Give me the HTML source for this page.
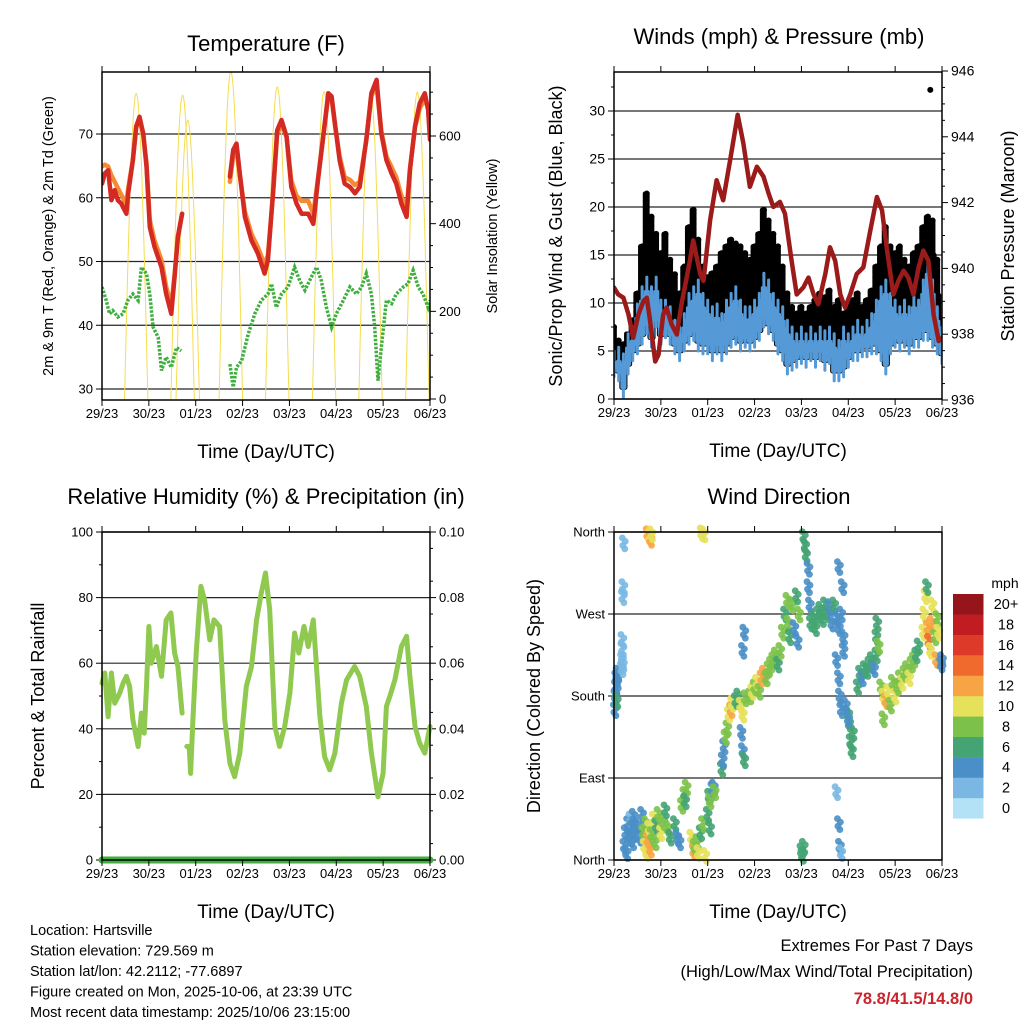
<!DOCTYPE html>
<html><head><meta charset="utf-8"><style>
html,body{margin:0;padding:0;background:#fff}
svg{display:block;font-family:"Liberation Sans",Arial,sans-serif}
</style></head><body>
<svg id="s" width="1024" height="1024" viewBox="0 0 1024 1024" xmlns="http://www.w3.org/2000/svg"></svg>
<script>
// ---------- data ----------
const dayLabels = ["29/23","30/23","01/23","02/23","03/23","04/23","05/23","06/23"];
const tempTime = [0,0.06,0.13,0.2,0.27,0.34,0.41,0.52,0.56,0.66,0.73,0.8,0.88,0.95,1.02,1.12,1.27,1.37,1.48,1.55,1.62,1.71,null,2.73,2.8,2.87,2.94,3.05,3.19,3.33,3.47,3.54,3.65,3.74,3.83,3.94,4.04,4.15,4.26,4.4,4.51,4.61,4.72,4.83,4.9,4.97,5.07,5.18,5.29,5.4,5.5,5.64,5.75,5.86,5.96,6.07,6.18,6.28,6.39,6.5,6.57,6.68,6.78,6.89,6.96,7.0];
const tempRed  = [62.2,63.8,64.3,59.6,61.2,59.6,59.1,57.5,60.7,65.9,71.2,72.7,70.1,64.9,55.4,52.3,49.1,44.9,41.8,47.6,53.8,57.5,null,63.3,67.5,68.5,63.8,57.0,53.3,51.2,48.1,50.2,60.7,70.6,72.2,69.6,61.7,59.1,57.5,57.5,55.9,62.8,69.6,76.4,75.9,71.7,65.9,62.2,61.7,60.7,61.7,69.1,76.4,78.5,70.1,65.9,63.8,62.2,59.1,57.0,64.3,71.2,74.8,76.4,73.8,69.1];
const tempOrange=[64.9,65.2,64.9,63.5,62.5,61.5,60.5,59.0,61.5,66.0,71.0,72.2,70.0,65.5,56.5,53.3,50.2,46.0,43.0,48.0,54.0,57.5,null,62.5,66.5,67.5,63.5,57.8,54.3,52.2,49.5,51.0,60.5,70.0,71.5,69.5,62.7,60.3,59.5,59.5,57.5,63.0,69.5,76.0,75.5,71.5,66.5,63.2,62.8,62.0,62.5,69.0,76.0,77.5,70.5,66.5,64.8,63.2,60.3,58.0,64.5,71.0,74.0,75.5,74.0,70.0];
const dewTime = [0,0.09,0.16,0.23,0.34,0.45,0.55,0.66,0.77,0.84,0.95,1.02,1.09,1.2,1.27,1.37,1.48,1.59,1.69,null,2.73,2.8,2.87,2.98,3.12,3.26,3.4,3.54,3.62,3.72,3.83,3.97,4.11,4.22,4.33,4.47,4.58,4.68,4.79,4.9,5.0,5.15,5.29,5.43,5.54,5.64,5.75,5.82,5.89,5.96,6.07,6.18,6.28,6.43,6.53,6.64,6.75,6.85,6.96,7.0];
const dewVal  = [46.0,43.9,41.8,42.3,41.3,41.8,43.9,44.9,43.9,49.1,48.1,44.9,39.7,38.1,32.9,35.0,33.4,36.5,36.0,null,33.9,30.3,33.4,34.4,38.6,41.8,43.9,44.9,46.5,42.8,44.9,46.0,49.1,47.0,45.5,47.6,49.1,47.0,42.8,39.7,41.8,43.9,46.0,44.9,46.0,48.1,44.9,39.7,31.3,36.5,43.9,43.4,44.9,46.0,46.5,48.6,46.0,44.9,42.8,43.9];
const solarPeakTime = [0.73,1.72,1.83,2.75,3.74,4.74,5.73,6.73,7.6];
const solarPeakVal  = [697,693,636,747,712,701,700,700,700];
const windTime = [0,0.1,0.2,0.3,0.4,0.5,0.6,0.7,0.8,0.9,1.0,1.1,1.2,1.3,1.4,1.5,1.6,1.7,1.8,1.9,2.0,2.1,2.2,2.3,2.4,2.5,2.6,2.7,2.8,2.9,3.0,3.1,3.2,3.3,3.4,3.5,3.6,3.7,3.8,3.9,4.0,4.1,4.2,4.3,4.4,4.5,4.6,4.7,4.8,4.9,5.0,5.1,5.2,5.3,5.4,5.5,5.6,5.7,5.8,5.9,6.0,6.1,6.2,6.3,6.4,6.5,6.6,6.7,6.8,6.9,7.0];
const windHigh = [5.0,5.4,4.7,6.8,7.5,9.9,11.7,12.7,11.7,12.7,10.3,10.3,9.6,8.2,7.5,8.9,11,11.7,12.4,11,10.3,9.6,9.9,8.9,10.3,11,11.7,10.3,9.6,9.6,10.3,11,13.1,12.4,11,10.3,9.6,8.2,7.5,6.8,7.5,6.8,7.5,6.8,7.5,7.1,7.5,6.8,6.1,7.5,6.8,7.5,8.2,7.5,8.2,8.9,10.3,11.7,12.4,11,10.3,9.6,10.3,9.6,11,10.3,12.4,14.5,12.4,9.6,7.5];
const windLow  = [2.3,1.9,0.2,2.6,4.0,4.7,5.7,6.8,5.4,7.5,5.7,6.4,5.7,4.7,4.0,5.0,5.7,6.1,5.0,4.7,4.7,4.0,4.7,4.0,4.7,5.4,5.7,5.0,5.4,5.0,5.4,6.1,7.5,6.8,6.1,4.7,4.0,2.6,3.0,3.3,3.7,3.3,4.0,3.3,4.0,3.0,3.7,1.9,1.9,2.3,3.3,4.0,4.0,4.4,4.4,4.7,4.7,4.0,2.6,4.7,5.4,5.0,5.4,4.7,5.4,5.4,6.1,6.1,5.4,4.7,3.7];
const gustVal  = [7.5,6.1,5.7,6.4,8.2,11,15.9,21.4,19,17.2,15.2,17.2,14.5,13,11,13.8,17.9,19.7,16.6,13.8,12.7,13.1,13.8,15.2,15.9,16.6,16.2,15.9,15.2,14.5,15.9,17.2,19.7,18.6,17.2,15.9,13.8,11,9.6,8.9,9.6,8.9,9.6,10.3,11,10.6,11.3,9.6,10.3,8.9,9.6,10.3,11,9.6,10.3,11.3,13.8,15.9,17.9,15.9,15.2,15.9,14.5,13.8,15.2,15.9,17.9,19,18.6,14.5,8.2];
const gustOutlierTime = [6.75];
const gustOutlierVal  = [32.2];
const presTime = [0,0.09,0.2,0.31,0.41,0.52,0.63,0.7,0.77,0.88,0.95,1.05,1.12,1.23,1.34,1.44,1.62,1.69,1.84,1.91,2.05,2.19,2.33,2.48,2.64,2.76,2.9,3.05,3.19,3.3,3.4,3.54,3.65,3.79,3.9,4.04,4.15,4.26,4.36,4.51,4.61,4.72,4.83,4.93,5.04,5.18,5.32,5.47,5.61,5.72,5.82,5.96,6.07,6.18,6.28,6.39,6.5,6.6,6.71,6.82,6.93,7.0];
const presVal  = [939.42,939.21,939.11,938.6,937.89,938.6,939.01,939.11,938.4,937.17,937.38,938.6,938.81,938.3,937.99,938.91,940.23,940.85,939.83,939.62,941.46,942.68,942.07,943.3,944.67,943.81,942.48,943.09,942.79,942.28,941.87,942.02,941.66,940.23,939.21,939.42,939.72,939.21,938.91,939.83,940.64,940.23,939.21,938.81,939.21,939.83,940.03,941.15,942.17,941.77,940.64,939.21,939.62,939.93,939.72,939.21,940.03,940.54,940.23,938.6,937.79,937.89];
const rhTime = [0,0.06,0.13,0.2,0.27,0.38,0.45,0.52,0.59,0.66,0.77,0.84,0.9,0.95,1.0,1.05,1.16,1.27,1.37,1.47,1.55,1.62,1.71,null,1.81,1.86,1.89,1.94,2.01,2.11,2.19,2.3,2.39,2.51,2.62,2.73,2.83,2.94,3.08,3.19,3.3,3.4,3.49,3.58,3.69,3.79,3.9,4.01,4.11,4.2,4.31,4.4,4.51,4.65,4.75,4.86,4.97,5.11,5.22,5.39,5.5,5.64,5.75,5.89,6.0,6.07,6.14,6.25,6.39,6.5,6.57,6.68,6.78,6.89,7.0];
const rhVal  = [53.9,57.0,43.7,57.0,47.8,50.9,53.9,56.0,52.9,42.7,34.6,44.8,38.7,52.9,71.2,60.0,65.1,56.0,73.2,75.3,63.1,59.0,44.8,null,34.6,34.6,26.4,42.7,63.1,83.4,79.3,67.1,73.2,71.2,42.7,29.5,25.4,32.6,52.9,59.0,73.2,81.4,87.5,76.3,40.7,34.6,40.7,50.9,69.2,63.1,71.2,65.1,73.2,43.7,31.5,27.5,32.6,47.8,54.9,59.0,56.0,46.8,32.6,19.3,26.4,46.8,49.8,54.9,65.1,68.2,56.0,40.7,35.6,32.6,40.7];
const rainTime = [0,7];
const rainVal  = [0,0];
const dirTime = [0.02,0.03,0.04,0.05,0.06,0.07,0.08,0.17,0.17,0.18,0.18,0.19,0.19,0.2,0.21,0.72,0.76,0.78,0.8,1.87,1.92,
0.22,0.25,0.27,0.3,0.33,0.35,0.38,0.4,0.42,0.45,0.5,0.55,0.6,
0.62,0.65,0.68,0.7,0.72,0.75,0.78,0.8,0.85,0.88,0.9,0.95,1.0,1.05,1.1,1.15,1.2,
1.3,1.35,1.4,1.45,1.5,1.55,1.52,1.65,1.7,1.72,1.78,1.8,1.85,1.9,1.95,
2.0,2.03,2.05,2.1,2.13,2.15,2.05,2.3,2.32,2.35,2.38,2.42,2.45,2.5,2.52,
2.6,2.65,2.7,2.75,2.8,2.72,2.75,2.78,2.75,2.78,
2.9,2.95,3.0,3.05,3.1,3.15,3.2,3.25,3.3,3.35,3.4,3.45,3.5,3.55,
3.6,3.65,3.7,3.72,3.75,3.8,3.85,3.9,3.92,3.95,
4.05,4.08,4.1,4.15,4.15,4.18,4.2,
4.25,4.3,4.35,4.4,4.45,4.5,4.55,4.6,4.65,4.7,4.75,4.8,4.85,4.9,
4.75,4.8,4.82,4.85,4.9,4.8,4.88,
5.0,5.02,5.05,5.08,5.1,4.95,5.0,
5.2,5.25,5.3,5.35,5.4,5.45,5.5,5.55,5.6,5.6,5.62,5.65,
5.7,5.75,5.8,5.85,5.9,5.95,6.0,6.05,5.75,
6.1,6.15,6.2,6.25,6.3,6.35,6.4,6.45,6.5,
6.6,6.62,6.65,6.68,6.7,6.72,6.75,6.78,6.8,6.85,6.88,6.9,6.92,6.98,7.0,
4.0,4.02,4.05,4.75,4.8,4.82,4.85];
const dirDeg = [165,180,190,200,175,195,205,210,220,232,242,215,289,300,348,358,355,352,358,359,358,
15,30,8,40,25,45,35,20,48,30,38,25,50,
30,15,40,8,22,35,12,28,45,20,38,50,30,42,55,35,25,
40,25,20,60,72,80,65,25,10,15,20,8,30,40,5,
50,70,65,78,80,75,35,100,110,125,135,145,160,165,172,
175,180,170,160,178,140,120,110,230,250,
180,185,190,195,185,200,205,200,210,215,220,225,215,230,
250,270,285,260,245,280,255,290,240,270,
355,345,335,320,300,280,260,
265,255,270,275,265,280,270,278,260,280,265,255,270,245,
220,200,180,165,230,322,300,
160,150,130,120,140,170,155,
190,205,200,210,208,215,220,210,225,245,260,235,
190,180,175,185,170,195,180,190,155,
200,195,205,210,200,215,220,225,235,
250,270,290,300,255,240,230,260,280,245,220,265,250,215,220,
10,5,15,75,40,15,8];
const dirSpeed = [4,4,4,4,6,4,4,2,2,2,2,2,2,2,2,12,10,12,10,10,10,
4,4,4,4,4,2,4,4,4,4,4,4,4,
8,10,8,10,12,10,12,8,10,8,6,8,10,8,6,8,6,
6,4,4,8,8,8,6,10,12,8,8,10,6,8,10,
6,6,8,4,4,8,6,6,4,4,8,8,10,12,10,
6,6,10,10,8,4,4,6,4,4,
8,10,8,10,8,12,12,8,8,8,8,8,6,8,
8,6,8,8,6,8,4,6,4,8,
6,6,6,4,4,4,6,
6,6,6,6,6,6,6,4,4,6,4,4,4,4,
4,4,4,4,4,4,4,
6,6,6,6,6,4,4,
6,6,4,6,6,6,6,4,6,6,6,8,
8,10,12,10,8,8,10,8,8,
8,10,8,8,10,8,8,6,6,
10,10,10,6,12,14,10,12,10,8,12,8,10,4,4,
6,6,6,2,4,4,2];
const speedColors = ["#b3e2f7","#7ab8e3","#4a8fc7","#45a473","#7cc24a","#e6e15a","#f7a445","#ef6a2c","#de3a2a","#c01c22","#95151b"];
const speedLabels = ["0","2","4","6","8","10","12","14","16","18","20+"];

// ---------- helpers ----------
const NS="http://www.w3.org/2000/svg", svg=document.getElementById('s');
function el(tag, attrs, parent, txt){const e=document.createElementNS(NS,tag);for(const k in attrs)e.setAttribute(k,attrs[k]);if(txt!==undefined)e.textContent=txt;(parent||svg).appendChild(e);return e;}
function lin(d0,d1,r0,r1){return v=>r0+(v-d0)*(r1-r0)/(d1-d0);}
function pathFrom(ts,vs,sx,sy){let d="",pen=false;for(let i=0;i<ts.length;i++){if(ts[i]===null||vs[i]===null){pen=false;continue;}d+=(pen?"L":"M")+sx(ts[i]).toFixed(1)+","+sy(vs[i]).toFixed(1);pen=true;}return d;}
function panel(name){const g=el('g',{});return g;}
function frame(g,L,T,R,B){
  const f=el('rect',{x:L,y:T,width:R-L,height:B-T,fill:'none',stroke:'#000','stroke-width':1.5},g);
  
}
function xAxis(g,L,R,B,T){
  const sx=lin(0,7,L,R);
  for(let i=0;i<dayLabels.length;i++){
    const x=sx(i);
    el('line',{x1:x,y1:B,x2:x,y2:B+6,stroke:'#000','stroke-width':1},g);
    el('line',{x1:x,y1:T,x2:x,y2:T-6,stroke:'#000','stroke-width':1},g);
    const t=el('text',{x:x,y:B+18,'font-size':13,'text-anchor':'middle'},g,dayLabels[i]);
    
  }
  const tt=el('text',{x:(L+R)/2,y:B+58,'font-size':19,'text-anchor':'middle'},g,'Time (Day/UTC)');
  
}
function yTicks(g,x,vals,sy,labels,side,grid,L,R,fs){
  vals.forEach((v,i)=>{
    const y=sy(v);
    if(grid){el('line',{x1:L,y1:y,x2:R,y2:y,stroke:'#000','stroke-width':1.2,'stroke-opacity':0.85},g);}
    el('line',{x1:x,y1:y,x2:x+(side==='l'?-6:6),y2:y,stroke:'#000','stroke-width':1},g);
    const t=el('text',{x:x+(side==='l'?-9:9),y:y+4.5,'font-size':fs||13,'text-anchor':side==='l'?'end':'start'},g,labels[i]);
    
  });
}
function minor(g,x,vals,sy,side){vals.forEach(v=>{const y=sy(v);el('line',{x1:x,y1:y,x2:x+(side==='l'?-3:3),y2:y,stroke:'#000','stroke-width':1},g);});}
function title(g,x,y,txt,nm){const t=el('text',{x:x,y:y,'font-size':22,'text-anchor':'middle'},g,txt);}
function vtitle(g,x,y,txt,fs,nm){const t=el('text',{x:x,y:y,'font-size':fs,'text-anchor':'middle',transform:`rotate(-90 ${x} ${y})`},g,txt);}

// ---------- Panel 1: Temperature ----------
(function(){
  const L=102,T=72,R=430,B=400;
  const g=panel('temperature-panel');
  const sx=lin(0,7,L,R), sy=lin(30,70,389,134), ss=lin(0,600,399,136);
  const clip=el('clipPath',{id:'c1'},g);el('rect',{x:L,y:T,width:R-L,height:B-T},clip);
  yTicks(g,L,[30,40,50,60,70],sy,["30","40","50","60","70"],'l',true,L,R);
  yTicks(g,R,[0,200,400,600],ss,["0","200","400","600"],'r',false);
  const mn=[];for(let v=0;v<=740;v+=50)if(v%200)mn.push(v);minor(g,R,mn,ss,'r');
  const cg=el('g',{'clip-path':'url(#c1)'},g);
  solarPeakTime.forEach((pt,i)=>{
    let d="";for(let k=0;k<=40;k++){const t=pt-0.25+0.5*k/40;const v=solarPeakVal[i]*Math.max(0,Math.sin(Math.PI*k/40));d+=(k?"L":"M")+sx(t).toFixed(1)+","+ss(v).toFixed(1);}
    const p=el('path',{d:d,fill:'none',stroke:'#f5dc50','stroke-width':1},cg);
    
  });
  const po=el('path',{d:pathFrom(tempTime,tempOrange,sx,sy),fill:'none',stroke:'#f58a30','stroke-width':4.5,'stroke-linejoin':'round','stroke-linecap':'round'},cg);
  
  const pr=el('path',{d:pathFrom(tempTime,tempRed,sx,sy),fill:'none',stroke:'#d42a24','stroke-width':4.5,'stroke-linejoin':'round','stroke-linecap':'round'},cg);
  
  const pg=el('path',{d:pathFrom(dewTime,dewVal,sx,sy),fill:'none',stroke:'#3fae3f','stroke-width':3.5,'stroke-dasharray':'2.5 1.5'},cg);
  
  frame(g,L,T,R,B);xAxis(g,L,R,B,T);
  title(g,266,51,'Temperature (F)','temperature-title');
  vtitle(g,53,236,'2m & 9m T (Red, Orange) & 2m Td (Green)',14.5,'temperature-y-axis-title');
  vtitle(g,497,236,'Solar Insolation (Yellow)',14.5,'solar-y-axis-title');
})();

// ---------- Panel 2: Winds ----------
(function(){
  const L=614,T=72,R=942,B=399;
  const g=panel('winds-panel');
  const sx=lin(0,7,L,R), sy=lin(0,30,399,111), sp=lin(936,946,400,71);
  const clip=el('clipPath',{id:'c2'},g);el('rect',{x:L,y:T,width:R-L,height:B-T},clip);
  yTicks(g,L,[0,5,10,15,20,25,30],sy,["0","5","10","15","20","25","30"],'l',true,L,R,14);
  yTicks(g,R,[936,938,940,942,944,946],sp,["936","938","940","942","944","946"],'r',false,0,0,14);
  const mn=[];for(let v=936.5;v<946;v+=0.5)if(v%2)mn.push(v);minor(g,R,mn,sp,'r');
  const mn2=[];for(let v=2.5;v<34;v+=2.5)if(v%5)mn2.push(v);minor(g,L,mn2,sy,'l');
  const cg=el('g',{'clip-path':'url(#c2)'},g);
  // gust dots: dense between wind high and gust value at each sample
  windTime.forEach((t,i)=>{
    for(let k=0;k<4;k++){
      const x=sx(t)+(k-1.5)*1.2;
      const top=gustVal[i]-(k%2)*1.2*(k);
      let d="M"+x.toFixed(1)+","+sy(windLow[i]+1).toFixed(1)+"L"+x.toFixed(1)+","+sy(Math.max(top,windHigh[i])).toFixed(1);
      const p=el('path',{d:d,stroke:'#000','stroke-width':4.5,'stroke-linecap':'round','stroke-dasharray':'4 1'},cg);
      
    }
    const c=el('circle',{cx:sx(t),cy:sy(gustVal[i]),r:3,fill:'#000'},cg);
  });
  gustOutlierTime.forEach((t,i)=>{const c=el('circle',{cx:sx(t),cy:sy(gustOutlierVal[i]),r:3,fill:'#000'},cg);});
  windTime.forEach((t,i)=>{
    for(let k=0;k<3;k++){
      const x=sx(t)+(k-1)*1.6;
      const hi=windHigh[i]-(k===1?0:1.5), lo=windLow[i]+(k===1?0:1);
      const p=el('line',{x1:x.toFixed(1),y1:sy(lo).toFixed(1),x2:x.toFixed(1),y2:sy(hi).toFixed(1),stroke:'#559ad6','stroke-width':3,'stroke-linecap':'round'},cg);
      
    }
  });
  let d="M";windTime.forEach((t,i)=>{d+=(i?"L":"")+sx(t).toFixed(1)+","+sy(windHigh[i]-1.2).toFixed(1);});
  for(let i=windTime.length-1;i>=0;i--)d+="L"+sx(windTime[i]).toFixed(1)+","+sy(windLow[i]+1.2).toFixed(1);
  const wb=el('path',{d:d+"Z",fill:'#559ad6'},cg);
  
  const pp=el('path',{d:pathFrom(presTime,presVal,sx,sp),fill:'none',stroke:'#9b1a1a','stroke-width':4.5,'stroke-linejoin':'round','stroke-linecap':'round'},cg);
  
  frame(g,L,T,R,B);xAxis(g,L,R,B,T);
  title(g,779,44,'Winds (mph) & Pressure (mb)','winds-title');
  vtitle(g,562,236,'Sonic/Prop Wind & Gust (Blue, Black)',18,'wind-y-axis-title');
  vtitle(g,1014,236,'Station Pressure (Maroon)',18,'pressure-y-axis-title');
})();

// ---------- Panel 3: RH ----------
(function(){
  const L=102,T=532,R=430,B=860;
  const g=panel('humidity-panel');
  const sx=lin(0,7,L,R), sy=lin(0,100,860,532), sr=lin(0,0.1,860,532);
  const clip=el('clipPath',{id:'c3'},g);el('rect',{x:L-8,y:T,width:R-L+16,height:B-T+8},clip);
  yTicks(g,L,[0,20,40,60,80,100],sy,["0","20","40","60","80","100"],'l',true,L,R);
  yTicks(g,R,[0,0.02,0.04,0.06,0.08,0.1],sr,["0.00","0.02","0.04","0.06","0.08","0.10"],'r',false);
  const mn=[];for(let v=0.005;v<0.1;v+=0.01)mn.push(v);minor(g,R,mn,sr,'r');
  const mn2=[];for(let v=10;v<100;v+=20)mn2.push(v);minor(g,L,mn2,sy,'l');
  const cg=el('g',{'clip-path':'url(#c3)'},g);
  const ph=el('path',{d:pathFrom(rhTime,rhVal,sx,sy),fill:'none',stroke:'#8fc94f','stroke-width':5,'stroke-linejoin':'round','stroke-linecap':'round'},cg);
  
  const prn=el('path',{d:pathFrom(rainTime,rainVal,sx,sr),fill:'none',stroke:'#3fae3f','stroke-width':7,'stroke-linecap':'round'},cg);
  
  frame(g,L,T,R,B);xAxis(g,L,R,B,T);
  title(g,266,504,'Relative Humidity (%) & Precipitation (in)','humidity-title');
  vtitle(g,44,696,'Percent & Total Rainfall',18,'humidity-y-axis-title');
})();

// ---------- Panel 4: Wind direction ----------
(function(){
  const L=614,T=532,R=942,B=860;
  const g=panel('wind-direction-panel');
  const sx=lin(0,7,L,R), sy=lin(0,360,860,532);
  yTicks(g,L,[0,90,180,270,360],sy,["North","East","South","West","North"],'l',true,L,R);
  const cg=el('g',{},g);
  const offs=[[-1.5,-5],[1.5,-1.5],[-1,2.5],[1,6]];
  dirTime.forEach((t,i)=>{
    const ci=Math.min(10,Math.floor(dirSpeed[i]/2));
    offs.forEach(o=>{
      const c=el('circle',{cx:(sx(t)+o[0]).toFixed(1),cy:(sy(dirDeg[i])+o[1]).toFixed(1),r:3.4,fill:speedColors[ci],'fill-opacity':0.9},cg);
      
    });
  });
  frame(g,L,T,R,B);xAxis(g,L,R,B,T);
  title(g,779,504,'Wind Direction','wind-direction-title');
  vtitle(g,540,696,'Direction (Colored By Speed)',18,'direction-y-axis-title');
  const lg=el('g',{},g);
  const mt=el('text',{x:1005,y:588,'font-size':14,'text-anchor':'middle'},lg,'mph');
  speedColors.forEach((c,i)=>{
    const y=594+(10-i)*20.4;
    const r=el('rect',{x:953,y:y,width:30.5,height:20.6,fill:c},lg);
    const t=el('text',{x:1006,y:y+15,'font-size':14.5,'text-anchor':'middle'},lg,speedLabels[i]);
  });
})();

// ---------- footer ----------
(function(){
  const info=["Location: Hartsville","Station elevation: 729.569 m","Station lat/lon: 42.2112; -77.6897","Figure created on Mon, 2025-10-06, at 23:39 UTC","Most recent data timestamp: 2025/10/06 23:15:00"];
  info.forEach((s,i)=>{const t=el('text',{x:30,y:935+i*20.5,'font-size':14.5},svg,s);});
  let t=el('text',{x:973,y:951,'font-size':16.5,'text-anchor':'end'},svg,'Extremes For Past 7 Days');
  t=el('text',{x:973,y:977,'font-size':16.5,'text-anchor':'end'},svg,'(High/Low/Max Wind/Total Precipitation)');
  t=el('text',{x:973,y:1004,'font-size':16.5,'text-anchor':'end','font-weight':'bold',fill:'#c8262d'},svg,'78.8/41.5/14.8/0');
})();
</script>
</body></html>
